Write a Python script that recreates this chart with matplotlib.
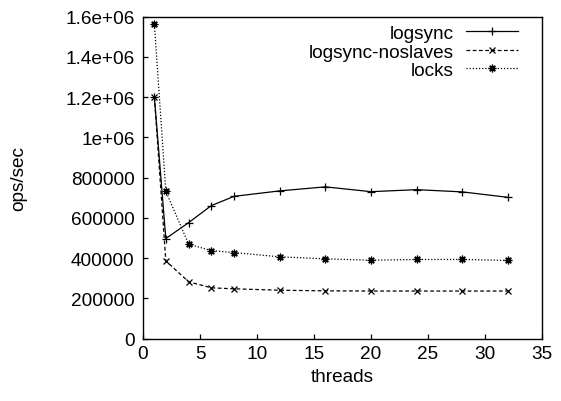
import matplotlib
matplotlib.use("Agg")
import matplotlib.pyplot as plt
from matplotlib.ticker import FuncFormatter

threads = [1, 2, 4, 6, 8, 12, 16, 20, 24, 28, 32]
logsync = [1200000, 497000, 576000, 661000, 707000, 734000, 754000, 730000, 740000, 729000, 702000]
logsync_noslaves = [1200000, 386000, 282000, 252000, 247000, 240000, 237000, 236000, 236000, 236000, 236000]
locks = [1562000, 732000, 469000, 437000, 427000, 406000, 396000, 389000, 393000, 393000, 388000]

plt.rcParams['font.family'] = ['Liberation Sans', 'DejaVu Sans']
plt.rcParams['font.size'] = 13.7

fig = plt.figure(figsize=(5.61, 4.02), dpi=100)
ax = fig.add_axes([143 / 561, 1 - 339.5 / 402, 399 / 561, 321.8 / 402])

ax.plot(threads, logsync, color='black', lw=0.9, ls='-', marker='+', ms=6, mew=0.9, label='logsync')
ax.plot(threads, logsync_noslaves, color='black', lw=0.9, ls=(0, (3, 2)), marker='x', ms=4.5, mew=0.9,
        label='logsync-noslaves')
ax.plot(threads, locks, color='black', lw=0.9, ls=(0, (1, 1.5)), marker=(8, 2, 0), ms=5.5, mew=0.9,
        label='locks')

ax.set_xlim(0, 35)
ax.set_ylim(0, 1600000)
ax.set_xticks(range(0, 36, 5))
ax.set_yticks(range(0, 1600001, 200000))
ax.yaxis.set_major_formatter(FuncFormatter(lambda v, p: '%g' % v))

ax.tick_params(direction='in', length=3.6, width=0.9, top=False, right=False)
ax.tick_params(axis='x', pad=5)
ax.tick_params(axis='y', pad=6)
for side in ['left', 'right', 'top', 'bottom']:
    ax.spines[side].set_linewidth(1.0)

ax.set_xlabel('threads', labelpad=4)
ax.set_ylabel('ops/sec')
ax.yaxis.set_label_coords(-0.29, 0.5)

ax.legend(loc='upper right', bbox_to_anchor=(0.98, 1.025), frameon=False, markerfirst=False,
          handlelength=2.7, handletextpad=0.65, labelspacing=0.06, borderpad=0.35)

fig.savefig('out.png', dpi=100)
